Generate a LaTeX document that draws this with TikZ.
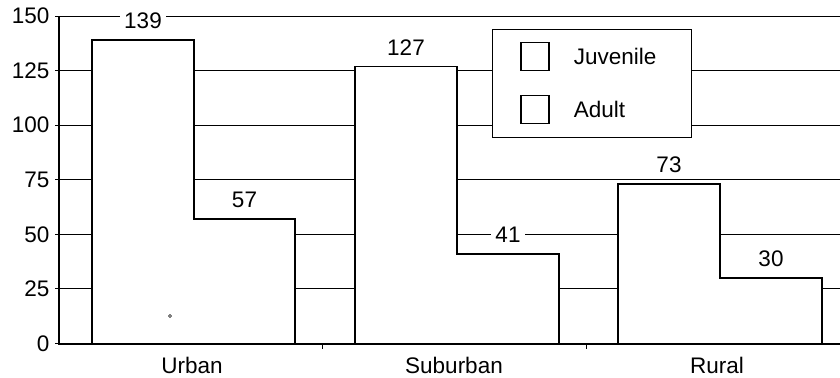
\documentclass[tikz,border=0pt]{standalone}
\usepackage{fontspec}
\setmainfont{Liberation Sans}
\usetikzlibrary{positioning}

\begin{document}
\begin{tikzpicture}[x=1pt, y=2.183pt, font=\fontsize{22.5}{26}\selectfont,
  gridline/.style={line width=1pt},
  axisline/.style={line width=2pt},
  barshape/.style={draw, fill=white, line width=1.3pt, line join=miter},
  value/.style={fill=white, inner xsep=4pt, inner ysep=1pt},
  keybox/.style={draw, fill=white, line width=1.1pt, minimum size=28pt, inner sep=0pt},
  keytext/.style={inner sep=0pt, anchor=west}]
  \useasboundingbox (-59,-15.35) rectangle (781,157.35);

  % grid, ticks and scale
  \foreach \v in {0,25,...,150}{
    \draw[gridline] (0,\v) -- (781,\v);
    \draw[gridline] (-4,\v) -- (0,\v);
    \node[inner sep=0pt, anchor=east] (scale\v) at (-9.5,\v) {\v};
  }

  % bars (juvenile and adult share one outline)
  \draw[barshape] (33,0) -- (33,139) -- (135,139) -- (135,57) -- (236,57) -- (236,0) -- cycle;
  \draw[barshape] (296,0) -- (296,127) -- (398,127) -- (398,41) -- (500,41) -- (500,0) -- cycle;
  \draw[barshape] (559,0) -- (559,73) -- (661,73) -- (661,30) -- (763,30) -- (763,0) -- cycle;
  \draw[line width=0.6pt] (111,12.6) circle (1.5pt);

  % values
  \node[value] (urbanjuv) at (84,147.7) {139};
  \node[value] (urbanad) at (185.5,65.7) {57};
  \node[value] (suburbjuv) at (347,135.7) {127};
  \node[value] (suburbad) at (449,49.7) {41};
  \node[value] (ruraljuv) at (610,81.7) {73};
  \node[value] (ruralad) at (712,38.7) {30};

  % axes
  \draw[axisline] (0,150) -- (0,0) -- (781,0);
  \draw[gridline] (263,0) -- (263,-2.3);
  \draw[gridline] (527,0) -- (527,-2.3);

  % categories
  \node (urban) at (133,-9.85) {Urban};
  \node (suburban) at (395,-9.85) {Suburban};
  \node (rural) at (658,-9.85) {Rural};

  % legend
  \node[draw, fill=white, line width=1.4pt, minimum width=199pt, minimum height=108pt,
        anchor=north west, inner sep=0pt] (legend) at (433,144.1) {};
  \node[keybox] (juvkey) at (476,131.45) {};
  \node[keybox] (adultkey) at (476,107.2) {};
  \node[keytext, right=24pt of juvkey] (juvtext) {Juvenile};
  \node[keytext, right=24pt of adultkey] (adulttext) {Adult};
\end{tikzpicture}
\end{document}
